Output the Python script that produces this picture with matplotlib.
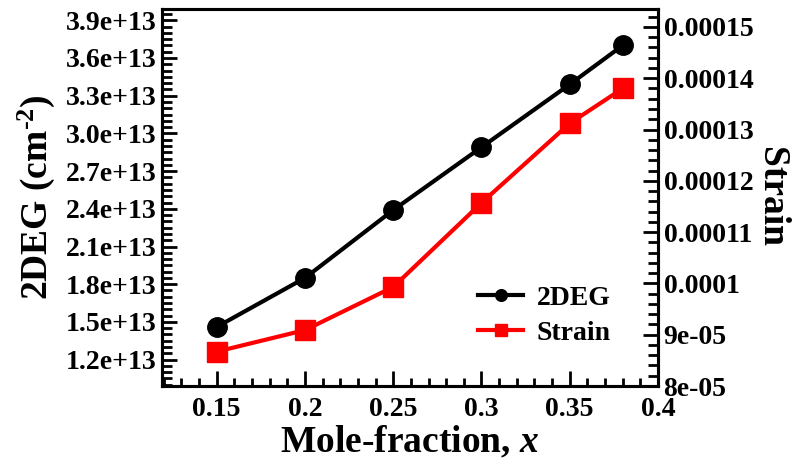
import numpy as np
import matplotlib.pyplot as plt
from matplotlib.ticker import MultipleLocator, FuncFormatter

# mole fraction of the barrier layer
mole_frac = [0.15, 0.2, 0.25, 0.3, 0.35, 0.38]
# sheet carrier density, cm^-2
deg_density = [1.46e13, 1.85e13, 2.39e13, 2.89e13, 3.39e13, 3.70e13]
# in-plane strain
strain = [8.67e-05, 9.09e-05, 9.93e-05, 11.57e-05, 13.12e-05, 13.80e-05]

plt.rcParams['font.family'] = 'Liberation Serif'
plt.rcParams['font.weight'] = 'bold'
plt.rcParams['axes.labelweight'] = 'bold'
plt.rcParams['mathtext.fontset'] = 'custom'
plt.rcParams['mathtext.rm'] = 'Liberation Serif:bold'
plt.rcParams['mathtext.bf'] = 'Liberation Serif:bold'
plt.rcParams['mathtext.it'] = 'Liberation Serif:bold:italic'

fig = plt.figure(figsize=(8.04, 4.70), dpi=100)
ax = fig.add_axes([0.2015, 0.1787, 0.6169, 0.8022])
ax2 = ax.twinx()

l1, = ax.plot(mole_frac, deg_density, '-o', color='black', lw=3, ms=14,
              label='2DEG', zorder=3)
l2, = ax2.plot(mole_frac, strain, '-s', color='#ff0000', lw=3, ms=14,
               label='Strain', zorder=3)

ax.set_xlim(0.119, 0.4)
ax.set_ylim(0.99e13, 3.99e13)
ax2.set_ylim(8e-05, 15.35e-05)

ax.xaxis.set_major_locator(MultipleLocator(0.05))
ax.xaxis.set_minor_locator(MultipleLocator(0.01))
ax.yaxis.set_major_locator(MultipleLocator(0.3e13))
ax.yaxis.set_minor_locator(MultipleLocator(0.05e13))
ax2.yaxis.set_major_locator(MultipleLocator(1e-05))
ax2.yaxis.set_minor_locator(MultipleLocator(2e-06))

ax.xaxis.set_major_formatter(FuncFormatter(lambda v, p: '%g' % round(v, 3)))
ax.yaxis.set_major_formatter(FuncFormatter(
    lambda v, p: '%.1fe+13' % round(v / 1e13, 2)))
ax2.yaxis.set_major_formatter(FuncFormatter(
    lambda v, p: '%g' % float('%.3g' % v)))

for a in (ax, ax2):
    for s in a.spines.values():
        s.set_linewidth(2.2)
ax.tick_params(axis='x', which='both', direction='in', top=False,
               labelsize=20, pad=8, width=2)
ax.tick_params(axis='x', which='major', length=11)
ax.tick_params(axis='x', which='minor', length=6)
ax.tick_params(axis='y', which='both', direction='in', right=False,
               labelsize=20, pad=4, width=2)
ax.tick_params(axis='y', which='major', length=11)
ax.tick_params(axis='y', which='minor', length=7)
ax2.tick_params(axis='y', which='both', direction='in', labelsize=20,
                pad=4, width=2)
ax2.tick_params(axis='y', which='major', length=11)
ax2.tick_params(axis='y', which='minor', length=7)

ax.set_xlabel(r'Mole-fraction, $\mathit{x}$', fontsize=27, labelpad=2)
ax.set_ylabel(r'2DEG (cm$^{\text{-2}}$)', fontsize=27, labelpad=6)
ax2.set_ylabel('Strain', fontsize=27, rotation=270, labelpad=26)

ax.legend(handles=[l1, l2], loc='lower right', bbox_to_anchor=(0.955, 0.04),
          frameon=False, fontsize=20, handlelength=1.6, markerscale=0.6,
          handletextpad=0.5, labelspacing=0.35)

fig.savefig('out.png', dpi=100)
